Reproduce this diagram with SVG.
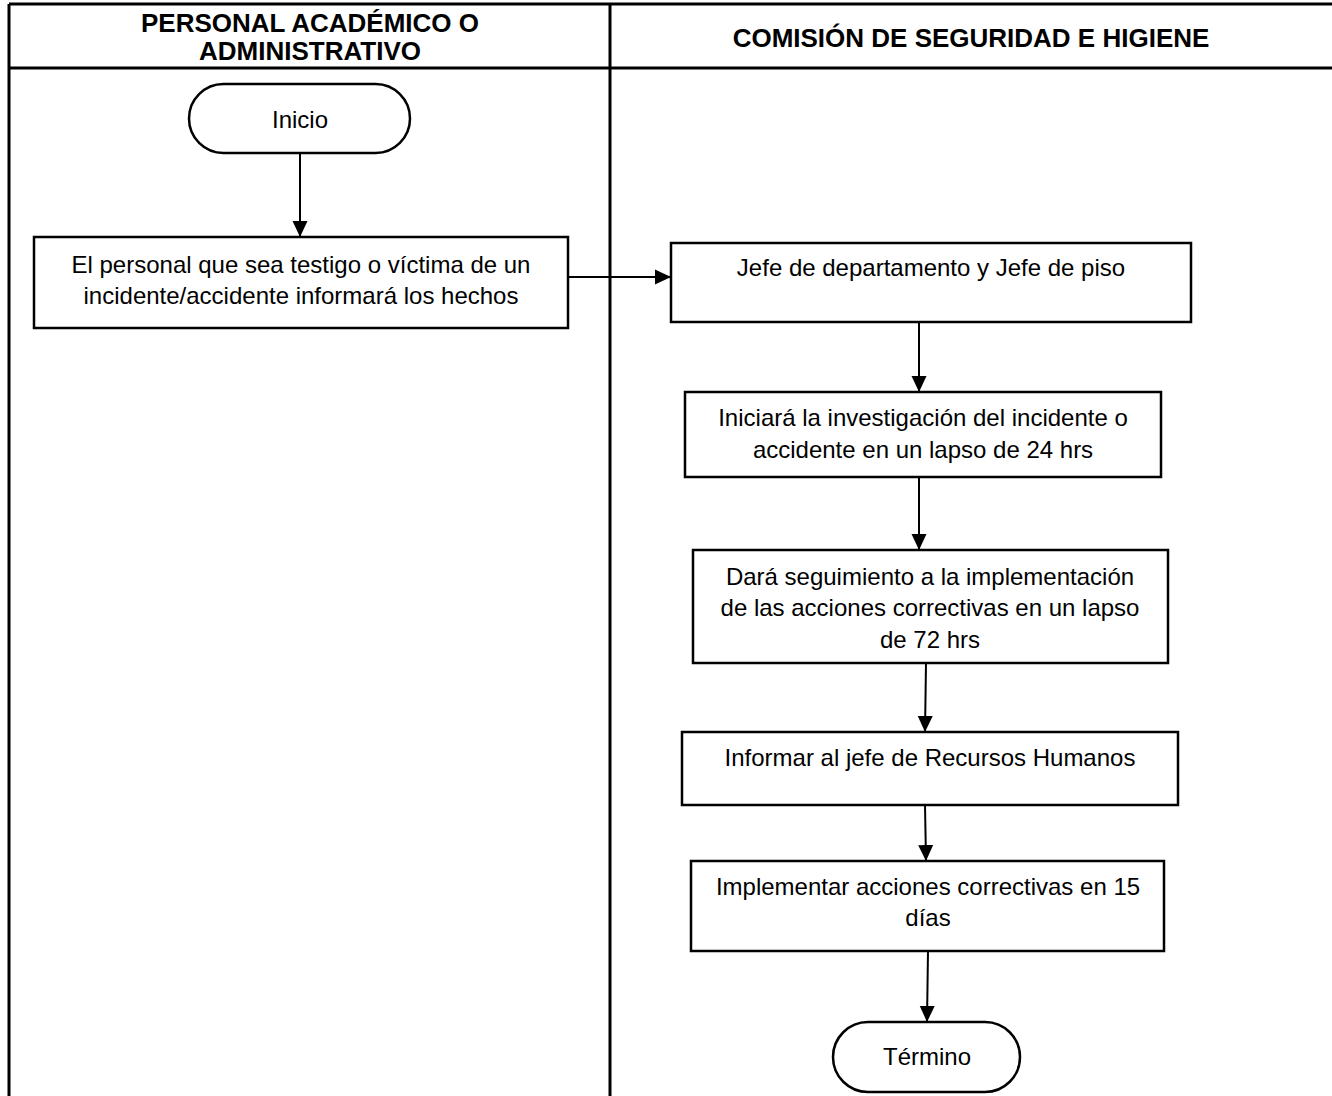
<svg xmlns="http://www.w3.org/2000/svg" width="1332" height="1096" viewBox="0 0 1332 1096">
<style>
.frame{stroke:#000;stroke-width:3;fill:none}
.box{fill:#fff;stroke:#000;stroke-width:2.5}
.conn{stroke:#000;stroke-width:2;fill:none;marker-end:url(#arr)}
.hdr{font-family:"Liberation Sans",Arial,sans-serif;font-weight:bold;font-size:26px;text-anchor:middle;fill:#000}
.t{font-family:"Liberation Sans",Arial,sans-serif;font-size:24px;text-anchor:middle;fill:#000}
</style>
<defs>
<marker id="arr" markerUnits="userSpaceOnUse" markerWidth="16" markerHeight="16" refX="16" refY="8" orient="auto">
<path d="M0,0.5 L16,8 L0,15.5 Z" fill="#000"/>
</marker>
</defs>
<rect width="1332" height="1096" fill="#fff"/>
<g id="lanes">
<line class="frame" x1="9" y1="4" x2="1332" y2="4"/>
<line class="frame" x1="9" y1="68" x2="1332" y2="68"/>
<line class="frame" x1="9" y1="4" x2="9" y2="1096"/>
<line class="frame" x1="610" y1="4" x2="610" y2="1096"/>
<text class="hdr" x="310" y="32">PERSONAL ACADÉMICO O</text>
<text class="hdr" x="310" y="60">ADMINISTRATIVO</text>
<text class="hdr" x="971" y="47">COMISIÓN DE SEGURIDAD E HIGIENE</text>
</g>
<g id="connectors">
<line class="conn" x1="300" y1="153" x2="300" y2="237"/>
<line class="conn" x1="568" y1="277" x2="671" y2="277"/>
<line class="conn" x1="919" y1="322" x2="919" y2="392"/>
<line class="conn" x1="919" y1="477" x2="919" y2="550"/>
<line class="conn" x1="926" y1="663" x2="925" y2="732"/>
<line class="conn" x1="925" y1="805" x2="926" y2="861"/>
<line class="conn" x1="928" y1="951" x2="927" y2="1022"/>
</g>
<g id="inicio">
<rect class="box" x="189" y="84" width="221" height="69" rx="34.5"/>
<text class="t" x="300" y="128">Inicio</text>
</g>
<g id="n1">
<rect class="box" x="34" y="237" width="534" height="91"/>
<text class="t" x="301" y="273">El personal que sea testigo o víctima de un</text>
<text class="t" x="301" y="304">incidente/accidente informará los hechos</text>
</g>
<g id="n2">
<rect class="box" x="671" y="243" width="520" height="79"/>
<text class="t" x="931" y="276">Jefe de departamento y Jefe de piso</text>
</g>
<g id="n3">
<rect class="box" x="685" y="392" width="476" height="85"/>
<text class="t" x="923" y="426">Iniciará la investigación del incidente o</text>
<text class="t" x="923" y="458">accidente en un lapso de 24 hrs</text>
</g>
<g id="n4">
<rect class="box" x="693" y="550" width="475" height="113"/>
<text class="t" x="930" y="585">Dará seguimiento a la implementación</text>
<text class="t" x="930" y="616">de las acciones correctivas en un lapso</text>
<text class="t" x="930" y="648">de 72 hrs</text>
</g>
<g id="n5">
<rect class="box" x="682" y="732" width="496" height="73"/>
<text class="t" x="930" y="766">Informar al jefe de Recursos Humanos</text>
</g>
<g id="n6">
<rect class="box" x="691" y="861" width="473" height="90"/>
<text class="t" x="928" y="895">Implementar acciones correctivas en 15</text>
<text class="t" x="928" y="926">días</text>
</g>
<g id="termino">
<rect class="box" x="833" y="1022" width="187" height="70" rx="35"/>
<text class="t" x="927" y="1065">Término</text>
</g>
</svg>
